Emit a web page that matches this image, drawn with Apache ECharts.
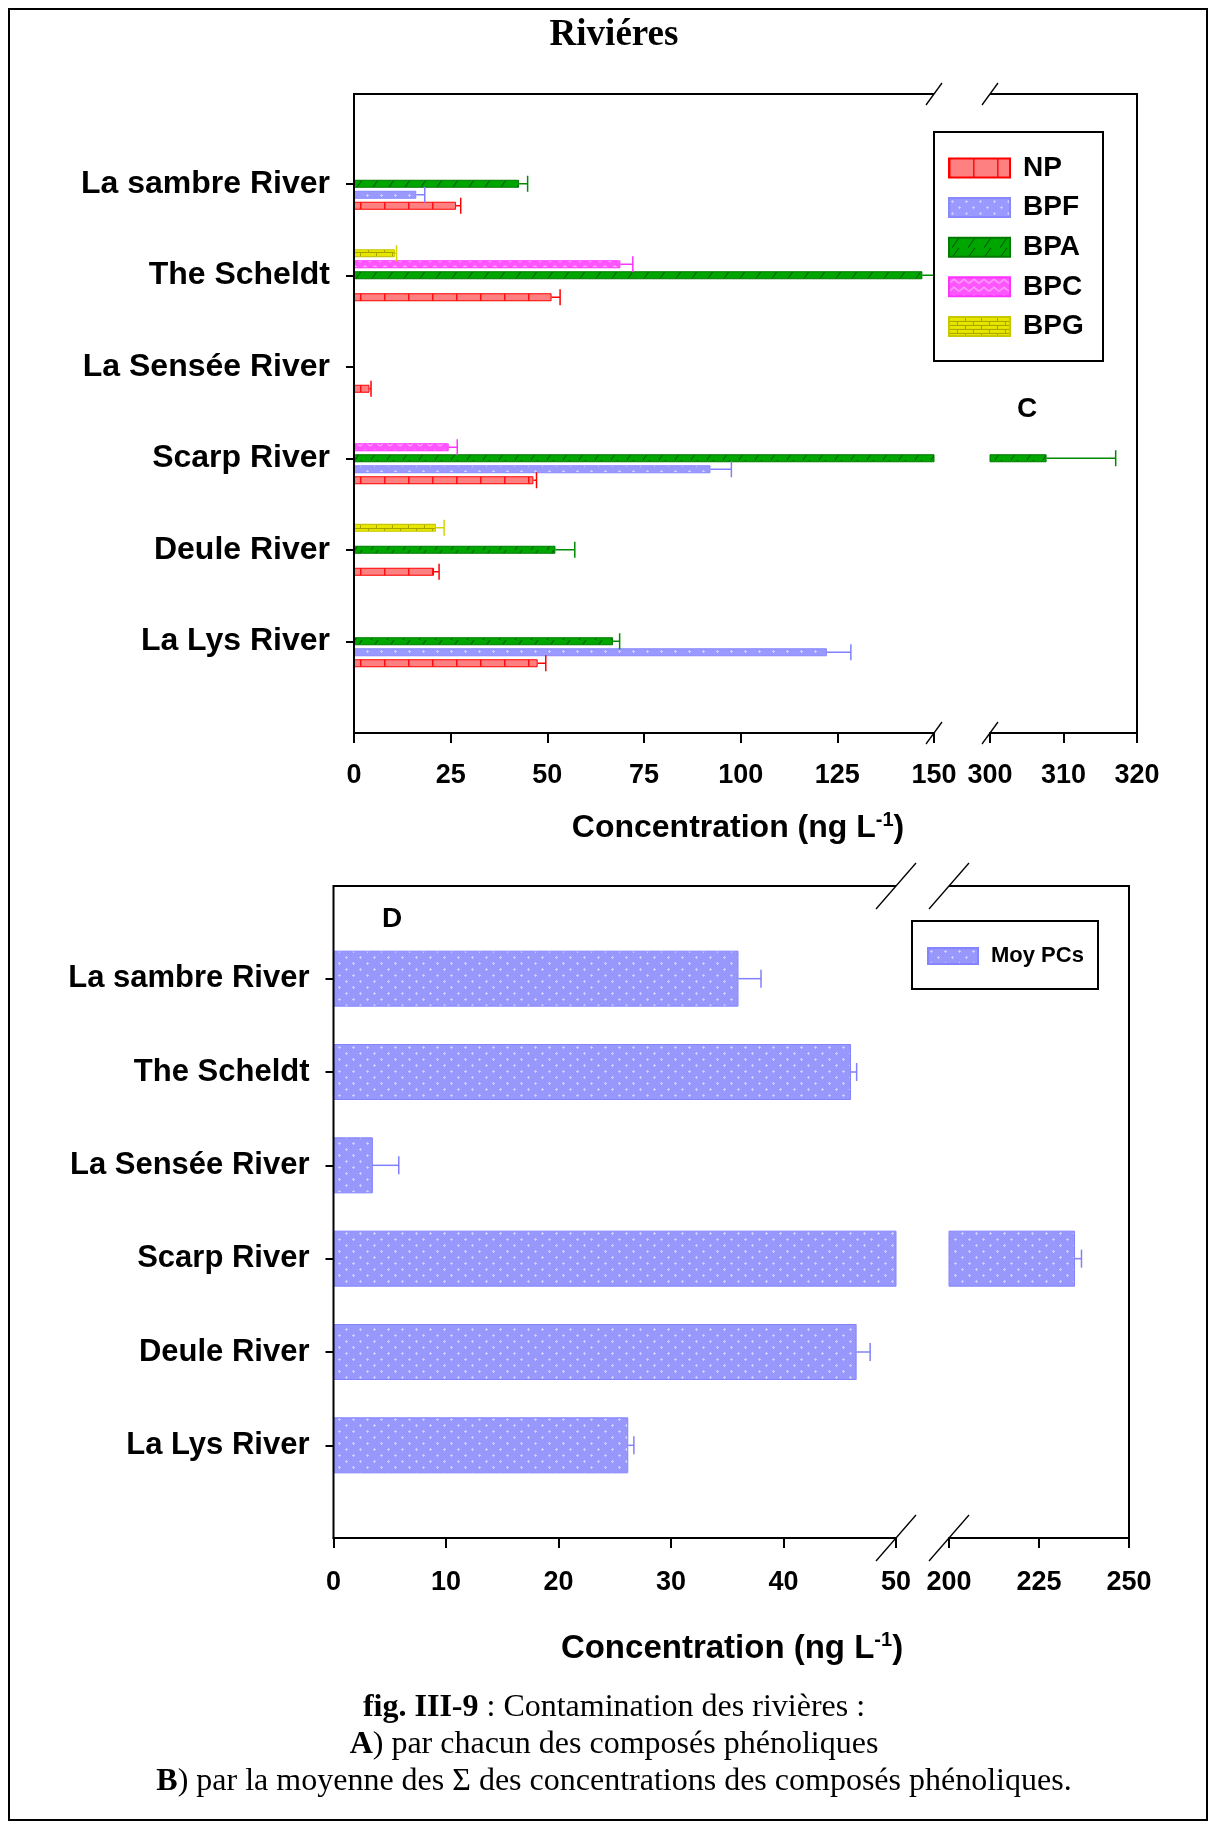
<!DOCTYPE html>
<html>
<head>
<meta charset="utf-8">
<title>Rivières</title>
<script src="https://cdn.jsdelivr.net/npm/echarts@6/dist/echarts.min.js"></script>
<style>
  html, body { margin: 0; padding: 0; background: #fff; }
  #chart { width: 1215px; height: 1829px; }
</style>
</head>
<body>
<div id="chart"></div>
<script>
// ---- data (ng L-1) ----
const rivers = ['La sambre River', 'The Scheldt', 'La Sensée River', 'Scarp River', 'Deule River', 'La Lys River'];

const npValues  = [26.4, 51.1, 4.0, 46.4, 20.7, 47.5];
const npErrors  = [1.2, 2.2, 0.4, 0.8, 1.3, 2.1];
const bpfValues = [16.1, null, null, 92.2, null, 122.3];
const bpfErrors = [2.2, null, null, 5.4, null, 6.2];
const bpaValues = [42.7, 147.0, null, 307.7, 52.1, 67.0];
const bpaErrors = [2.2, 4.0, null, 9.4, 5.0, 1.7];
const bpcValues = [null, 68.9, null, 24.5, null, null];
const bpcErrors = [null, 3.2, null, 2.2, null, null];
const bpgValues = [null, 10.6, null, null, 21.2, null];
const bpgErrors = [null, 0.4, null, null, 2.1, null];

const moyValues = [36.0, 46.0, 3.5, 235.0, 46.5, 26.2];
const moyErrors = [2.0, 0.5, 2.3, 1.8, 1.2, 0.5];

// broken value axes: low segment and high segment tick labels
const cTicksLow  = [0, 25, 50, 75, 100, 125, 150];
const cTicksHigh = [300, 310, 320];
const dTicksLow  = [0, 10, 20, 30, 40, 50];
const dTicksHigh = [200, 225, 250];

// ---- layout ----
const SANS = 'Liberation Sans';
const SERIF = 'Liberation Serif';
const panelC = { left: 354, cut1: 934, cut2: 990, right: 1137, top: 94, axisY: 733,
                 bandTop: 138, bandBottom: 687, barW: 8, cap: 8, labelMargin: 29,
                 catFont: 32, slash: [8, 11] };
const panelD = { left: 333.5, cut1: 896, cut2: 949, right: 1129, top: 886, axisY: 1538,
                 bandTop: 932, bandBottom: 1492, barW: 56, cap: 9, labelMargin: 31,
                 catFont: 31, slash: [20, 23] };

// ---- hatch fills ----
function makeTile(w, h, bg, draw) {
  const c = document.createElement('canvas');
  c.width = w; c.height = h;
  const g = c.getContext('2d');
  g.fillStyle = bg; g.fillRect(0, 0, w, h);
  draw(g);
  return { image: c, repeat: 'repeat' };
}
function crosses(g, color, pts) {
  g.fillStyle = color;
  pts.forEach(([x, y]) => { g.fillRect(x - 1, y, 3, 1); g.fillRect(x, y - 1, 1, 3); });
}
const fillNP = makeTile(24, 8, '#ff8080', g => {
  g.strokeStyle = '#ff1010'; g.lineWidth = 1.5;
  g.beginPath(); g.moveTo(0.75, 0); g.lineTo(0.75, 8); g.stroke();
});
const fillBPF = makeTile(14, 12, '#9999ff', g => crosses(g, '#d0d0ff', [[3, 3], [10, 9]]));
const fillBPA = makeTile(16, 10, '#00a600', g => {
  g.strokeStyle = '#004a00'; g.lineWidth = 1;
  g.beginPath(); g.moveTo(3, 10); g.lineTo(10, 0); g.stroke();
});
const fillBPC = makeTile(10, 8, '#ff55ff', g => {
  g.strokeStyle = '#ffb4ff'; g.lineWidth = 1.2;
  g.beginPath(); g.moveTo(0, 6); g.lineTo(5, 2); g.lineTo(10, 6); g.stroke();
});
const fillBPG = makeTile(16, 8, '#e6e600', g => {
  g.strokeStyle = '#a4a400'; g.lineWidth = 1;
  g.beginPath();
  g.moveTo(0, 0.5); g.lineTo(16, 0.5);
  g.moveTo(0, 4.5); g.lineTo(16, 4.5);
  g.moveTo(0.5, 0.5); g.lineTo(0.5, 4.5);
  g.moveTo(8.5, 4.5); g.lineTo(8.5, 8);
  g.stroke();
});
const fillMoy = makeTile(14, 12, '#9797fc', g => crosses(g, '#cdcdff', [[3, 3], [10, 9]]));

// series order inside a river group, top to bottom
const compounds = [
  { name: 'BPG', values: bpgValues, errors: bpgErrors, fill: fillBPG, edge: '#c8c800', err: '#d4d400' },
  { name: 'BPC', values: bpcValues, errors: bpcErrors, fill: fillBPC, edge: '#ff33ff', err: '#ff33ff' },
  { name: 'BPA', values: bpaValues, errors: bpaErrors, fill: fillBPA, edge: '#007a00', err: '#008a00' },
  { name: 'BPF', values: bpfValues, errors: bpfErrors, fill: fillBPF, edge: '#8888ff', err: '#8080ff' },
  { name: 'NP',  values: npValues,  errors: npErrors,  fill: fillNP,  edge: '#ff0000', err: '#ff0000' }
];

// ---- axes / grids ----
function gridOf(p, low) {
  return {
    left: low ? p.left : p.cut2,
    width: low ? p.cut1 - p.left : p.right - p.cut2,
    top: p.bandTop, height: p.bandBottom - p.bandTop,
    containLabel: false, outerBoundsMode: 'none', show: false
  };
}
function valueAxis(gridIndex, ticks, p) {
  return {
    type: 'value', gridIndex, position: 'bottom',
    min: ticks[0], max: ticks[ticks.length - 1], interval: ticks[1] - ticks[0],
    offset: p.axisY - p.bandBottom,
    axisLine: { show: true, onZero: false, lineStyle: { color: '#000', width: 2 } },
    axisTick: { show: true, length: 10, lineStyle: { color: '#000', width: 2 } },
    axisLabel: { show: true, margin: p.labelMargin, fontSize: 27, fontWeight: 'bold',
                 color: '#000', fontFamily: SANS, showMinLabel: true, showMaxLabel: true,
                 hideOverlap: false },
    splitLine: { show: false }
  };
}
function categoryAxis(gridIndex, p, visible) {
  return {
    type: 'category', gridIndex, data: rivers, inverse: true, show: visible,
    axisLine: { show: false },
    axisTick: { show: visible, alignWithLabel: true, length: 8, lineStyle: { color: '#000', width: 2 } },
    axisLabel: { show: visible, margin: 24, fontSize: p.catFont, fontWeight: 'bold',
                 color: '#000', fontFamily: SANS },
    splitLine: { show: false }
  };
}

// ---- error bars (one-sided, with end cap) ----
function errorSeries(axisIndex, values, errors, lo, hi, color, offset, cap) {
  const data = [];
  values.forEach((v, k) => {
    if (v != null && errors[k] != null && v >= lo && v <= hi) data.push([v, errors[k], k]);
  });
  return {
    type: 'custom', name: 'err', xAxisIndex: axisIndex, yAxisIndex: axisIndex,
    clip: true, z: 3, silent: true,
    encode: { x: 0, y: 2 },
    data,
    renderItem: (params, api) => {
      const v = api.value(0), e = api.value(1), k = api.value(2);
      const a = api.coord([v, k]);
      const b = api.coord([v + e, k]);
      const y = a[1] + offset;
      const st = { stroke: color, lineWidth: 1.5 };
      return {
        type: 'group',
        children: [
          { type: 'line', shape: { x1: a[0], y1: y, x2: b[0], y2: y }, style: st },
          { type: 'line', shape: { x1: b[0], y1: y - cap, x2: b[0], y2: y + cap }, style: st }
        ]
      };
    }
  };
}

const series = [];
const cLowMax = cTicksLow[cTicksLow.length - 1];
const cHighMin = cTicksHigh[0];
const cHighMax = cTicksHigh[cTicksHigh.length - 1];
const slotStep = panelC.barW + 3;

compounds.forEach((c, i) => {
  series.push({
    type: 'bar', name: c.name, xAxisIndex: 0, yAxisIndex: 0,
    barWidth: panelC.barW, barGap: '37.5%', clip: true,
    data: c.values.map(v => (v == null ? '-' : v)),
    itemStyle: { color: c.fill, borderColor: c.edge, borderWidth: 1 }
  });
  series.push(errorSeries(0, c.values, c.errors, 0, cLowMax, c.err,
                          (i - (compounds.length - 1) / 2) * slotStep, panelC.cap));
});
// values beyond the break go to the upper segment
compounds.forEach(c => {
  if (!c.values.some(v => v != null && v >= cHighMin)) return;
  series.push({
    type: 'bar', name: c.name, xAxisIndex: 1, yAxisIndex: 1,
    barWidth: panelC.barW, clip: true,
    data: c.values.map(v => (v != null && v >= cHighMin ? v : '-')),
    itemStyle: { color: c.fill, borderColor: c.edge, borderWidth: 1 }
  });
  series.push(errorSeries(1, c.values, c.errors, cHighMin, cHighMax, c.err, 0, panelC.cap));
});

const dLowMax = dTicksLow[dTicksLow.length - 1];
const dHighMin = dTicksHigh[0];
const dHighMax = dTicksHigh[dTicksHigh.length - 1];
series.push({
  type: 'bar', name: 'Moy PCs', xAxisIndex: 2, yAxisIndex: 2,
  barWidth: panelD.barW, clip: true,
  data: moyValues,
  itemStyle: { color: fillMoy, borderColor: '#8484ff', borderWidth: 1 }
});
series.push(errorSeries(2, moyValues, moyErrors, 0, dLowMax, '#8080ff', 0, panelD.cap));
series.push({
  type: 'bar', name: 'Moy PCs', xAxisIndex: 3, yAxisIndex: 3,
  barWidth: panelD.barW, clip: true,
  data: moyValues.map(v => (v >= dHighMin ? v : '-')),
  itemStyle: { color: fillMoy, borderColor: '#8484ff', borderWidth: 1 }
});
series.push(errorSeries(3, moyValues, moyErrors, dHighMin, dHighMax, '#8080ff', 0, panelD.cap));

// ---- frames with break marks ----
function frame(p) {
  const line = (x1, y1, x2, y2, w) => ({
    type: 'line', z: 6, silent: true,
    shape: { x1, y1, x2, y2 }, style: { stroke: '#000', lineWidth: w }
  });
  const els = [
    line(p.left, p.top, p.cut1, p.top, 2),
    line(p.cut2, p.top, p.right, p.top, 2),
    line(p.left, p.top - 1, p.left, p.axisY + 1, 2),
    line(p.right, p.top - 1, p.right, p.axisY + 1, 2)
  ];
  [p.cut1, p.cut2].forEach(x => {
    [p.top, p.axisY].forEach(y => {
      els.push(line(x - p.slash[0], y + p.slash[1], x + p.slash[0], y - p.slash[1], 1.3));
    });
  });
  return els;
}

function axisTitle(x, y, size) {
  return {
    type: 'text', x, y, z: 6, silent: true,
    style: {
      text: '{m|Concentration (ng L}{s|-1}{m|)}',
      rich: {
        m: { fontSize: size, fontWeight: 'bold', fontFamily: SANS, fill: '#000' },
        s: { fontSize: Math.round(size * 0.62), fontWeight: 'bold', fontFamily: SANS, fill: '#000',
             padding: [0, 0, Math.round(size * 0.5), 0] }
      },
      align: 'center', verticalAlign: 'middle'
    }
  };
}

function caption(y, text) {
  return {
    type: 'text', x: 614, y, z: 6, silent: true,
    style: { text,
             rich: { b: { fontWeight: 'bold', fontSize: 32, fontFamily: SERIF, fill: '#000' } },
             fontSize: 32, fontFamily: SERIF, fill: '#000', align: 'center', verticalAlign: 'middle' }
  };
}

const graphic = [
  { type: 'rect', z: 0, silent: true, shape: { x: 9, y: 9, width: 1198, height: 1811 },
    style: { fill: 'none', stroke: '#000', lineWidth: 2 } },
  { type: 'text', x: 614, y: 35, z: 6, silent: true,
    style: { text: 'Riviéres', fontSize: 37, fontWeight: 'bold', fontFamily: SERIF, fill: '#000',
             align: 'center', verticalAlign: 'middle' } },
  ...frame(panelC),
  ...frame(panelD),
  // legend boxes
  { type: 'rect', z: 10, silent: true, shape: { x: 934, y: 132, width: 169, height: 229 },
    style: { fill: '#fff', stroke: '#000', lineWidth: 2 } },
  { type: 'rect', z: 10, silent: true, shape: { x: 912, y: 921, width: 186, height: 68 },
    style: { fill: '#fff', stroke: '#000', lineWidth: 2 } },
  { type: 'text', x: 1027, y: 409, z: 6, silent: true,
    style: { text: 'C', fontSize: 28, fontWeight: 'bold', fontFamily: SANS, fill: '#000',
             align: 'center', verticalAlign: 'middle' } },
  { type: 'text', x: 392, y: 919, z: 6, silent: true,
    style: { text: 'D', fontSize: 28, fontWeight: 'bold', fontFamily: SANS, fill: '#000',
             align: 'center', verticalAlign: 'middle' } },
  axisTitle(738, 828, 32),
  axisTitle(732, 1649, 33),
  caption(1708, '{b|fig. III-9} : Contamination des rivières :'),
  caption(1745, '{b|A}) par chacun des composés phénoliques'),
  caption(1782, '{b|B}) par la moyenne des Σ des concentrations des composés phénoliques.')
];

const option = {
  animation: false,
  backgroundColor: '#fff',
  textStyle: { fontFamily: SANS },
  grid: [gridOf(panelC, true), gridOf(panelC, false), gridOf(panelD, true), gridOf(panelD, false)],
  xAxis: [
    valueAxis(0, cTicksLow, panelC), valueAxis(1, cTicksHigh, panelC),
    valueAxis(2, dTicksLow, panelD), valueAxis(3, dTicksHigh, panelD)
  ],
  yAxis: [
    categoryAxis(0, panelC, true), categoryAxis(1, panelC, false),
    categoryAxis(2, panelD, true), categoryAxis(3, panelD, false)
  ],
  legend: [
    {
      data: ['NP', 'BPF', 'BPA', 'BPC', 'BPG'], orient: 'vertical',
      left: 948, top: 154, padding: 0, itemGap: 11.6, z: 12,
      itemWidth: 61, itemHeight: 19, icon: 'rect', selectedMode: false,
      textStyle: { fontSize: 28, fontWeight: 'bold', color: '#000', fontFamily: SANS,
                   padding: [0, 0, 0, 8] }
    },
    {
      data: ['Moy PCs'], orient: 'vertical',
      left: 927, top: 945, padding: 0, z: 12,
      itemWidth: 50, itemHeight: 16, icon: 'rect', selectedMode: false,
      textStyle: { fontSize: 22, fontWeight: 'bold', color: '#000', fontFamily: SANS,
                   padding: [0, 0, 0, 8] }
    }
  ],
  graphic,
  series
};

const chart = echarts.init(document.getElementById('chart'), null, { renderer: 'canvas' });
chart.setOption(option);
</script>
</body>
</html>
